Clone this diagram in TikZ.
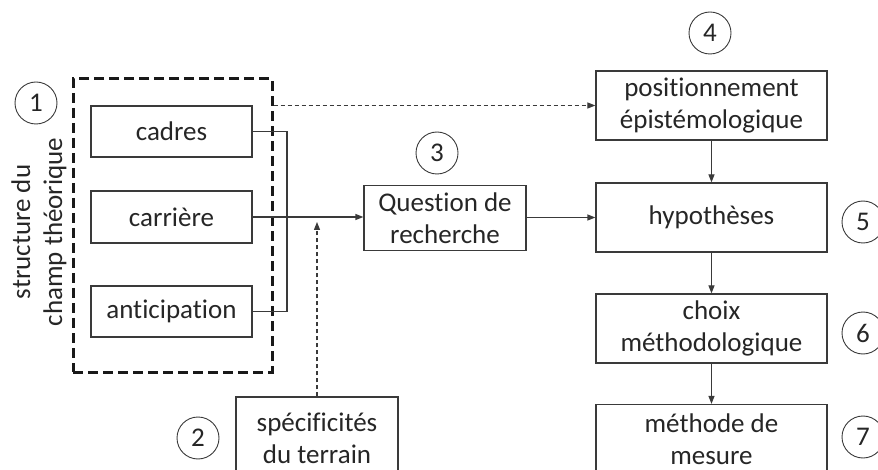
\documentclass[tikz,border=0pt]{standalone}
\usepackage{fontspec}
\setmainfont{Carlito}[RawFeature={-liga;-clig;-dlig;-calt}]
\usetikzlibrary{arrows.meta}
\definecolor{ln}{HTML}{3A3A3A}
\newcommand{\fs}{\fontsize{27}{32}\selectfont}
\begin{document}
\begin{tikzpicture}[x=1pt,y=-1pt,
  box/.style={draw=ln, line width=1.2pt, inner sep=0pt, align=center, font=\fs, text=black!85},
  num/.style={draw=ln, line width=0.9pt, circle, minimum size=42pt, inner sep=0pt, font=\fs, text=black!85},
  conn/.style={draw=ln, line width=1.2pt},
  arr/.style={conn, -{Triangle[length=8pt,width=6pt]}},
  darr/.style={draw=ln, line width=1.1pt, dash pattern=on 4pt off 3pt, -{Triangle[length=8pt,width=6pt]}},
  grp/.style={draw=black!90, line width=3pt, dash pattern=on 10pt off 5pt}]
\useasboundingbox (0,0) rectangle (878,470);
\clip (0,0) rectangle (878,470);
% group box
\node[grp, minimum width=199pt, minimum height=293pt, inner sep=0pt] (grp) at (172.5,225.5) {};
% left boxes
\node[box, minimum width=161pt, minimum height=51pt] (cad) at (171.5,131.5) {cadres};
\node[box, minimum width=161pt, minimum height=52pt] (car) at (171.5,217) {carrière};
\node[box, minimum width=161pt, minimum height=51pt] (ant) at (171.5,311.5) {anticipation};
\node[font=\fs, rotate=90, align=center, text=black!85, inner sep=0pt] (lab) at (39,232) {structure du\\champ théorique};
% middle
\node[box, minimum width=162pt, minimum height=65pt] (q) at (445,218) {Question de\\recherche};
\node[box, minimum width=162pt, minimum height=82pt] (sp) at (317,438) {spécificités\\du terrain};
% right column
\node[box, minimum width=231pt, minimum height=69pt] (pos) at (711.5,105.5) {positionnement\\épistémologique};
\node[box, minimum width=231pt, minimum height=69pt] (hyp) at (711.5,217.5) {hypothèses};
\node[box, minimum width=231pt, minimum height=69pt] (cho) at (711.5,328.5) {choix\\méthodologique};
\node[box, minimum width=231pt, minimum height=69pt] (met) at (711.5,439) {méthode de\\mesure};
% numbers
\node[num] (n1) at (36,103) {1};
\node[num] (n2) at (198,438) {2};
\node[num] (n3) at (437,153) {3};
\node[num] (n4) at (710,33) {4};
\node[num] (n5) at (863,222) {5};
\node[num] (n6) at (863,333) {6};
\node[num] (n7) at (863,437) {7};
% connectors
\coordinate (j) at (287,131.5);
\draw[conn] (cad.east) -- (j) |- (ant.east);
\draw[arr] (car.east) -- (car.east -| q.west);
\coordinate (spt) at (317,222);
\draw[darr] (sp.north) -- (spt);
\draw[darr] (grp.east |- pos.west) -- (pos.west);
\draw[arr] (q.east |- hyp.west) -- (hyp.west);
\draw[arr] (pos.south) -- (hyp.north);
\draw[arr] (hyp.south) -- (cho.north);
\draw[arr] (cho.south) -- (met.north);
\end{tikzpicture}
\end{document}
